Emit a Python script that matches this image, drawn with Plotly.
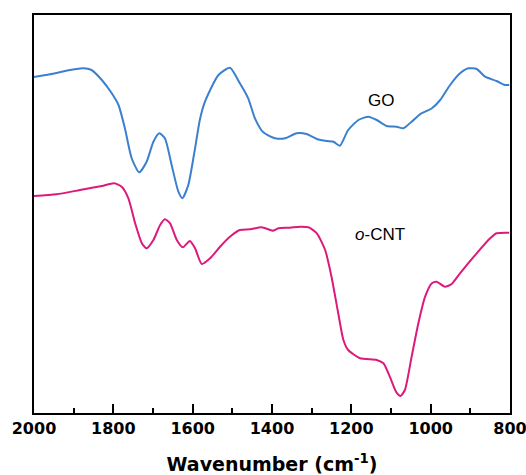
import plotly.graph_objects as go

# Wavenumbers (cm-1) and relative transmittance (arbitrary units)
go_wn = [2000, 1960, 1909, 1876, 1855, 1829, 1804, 1787, 1771, 1754, 1735, 1716, 1699, 1684,
         1670, 1653, 1636, 1626, 1611, 1594, 1582, 1569, 1535, 1506, 1481, 1460, 1443, 1422,
         1392, 1367, 1338, 1313, 1287, 1262, 1245, 1229, 1208, 1182, 1157, 1136, 1111, 1086,
         1069, 1048, 1027, 997, 976, 951, 926, 905, 884, 863, 834, 813, 802]
go_t = [336, 338.7, 343, 344.7, 343, 333, 319.7, 308, 285, 255, 240.7, 251.3, 271.3, 279.7,
        274.7, 248, 221.3, 214.7, 228, 264.7, 293, 311.3, 338, 345.3, 329.7, 314.7, 294.7, 280.7,
        274.7, 274.7, 279.7, 279, 274, 272, 271.3, 267.3, 283, 293, 296.3, 293, 287, 286.3,
        284.7, 291.3, 298.7, 304.7, 313, 328, 339.7, 344.7, 344, 336.3, 332, 328, 328]

cnt_wn = [2000, 1943, 1884, 1829, 1798, 1779, 1762, 1745, 1728, 1716, 1699, 1682, 1670, 1657,
          1640, 1625, 1607, 1594, 1577, 1556, 1531, 1506, 1481, 1455, 1426, 1397, 1384, 1355,
          1329, 1308, 1287, 1266, 1250, 1233, 1220, 1208, 1178, 1136, 1119, 1103, 1086, 1076,
          1065, 1048, 1031, 1014, 997, 985, 964, 947, 926, 884, 850, 834, 802]
cnt_t = [217, 218.7, 223, 227, 229.7, 226.3, 214.7, 189.7, 169.7, 164.7, 173, 188, 193.7, 189.7,
         173, 165.7, 172, 164.7, 149, 154.7, 166.3, 176.3, 183, 183.7, 185.7, 182.3, 184.7, 185.3,
         186.3, 185.7, 179.7, 163, 136.3, 99.7, 73, 63, 54.7, 53, 49.7, 36.3, 20.3, 17,
         23, 56.3, 89.7, 116.3, 129.7, 131.3, 126.3, 129, 139.7, 159.7, 174.7, 179.7, 180.3]

x_ticks = [2000, 1800, 1600, 1400, 1200, 1000, 800]

fig = go.Figure()
fig.add_trace(go.Scatter(x=go_wn, y=go_t, mode="lines", name="GO",
                         line=dict(color="#3B80CF", width=2, shape="spline", smoothing=0.6)))
fig.add_trace(go.Scatter(x=cnt_wn, y=cnt_t, mode="lines", name="o-CNT",
                         line=dict(color="#DC1A7C", width=2, shape="spline", smoothing=0.6)))

fig.add_annotation(x=1125, y=313, text="GO", showarrow=False,
                   font=dict(family="Liberation Sans, Arial", size=17, color="black"))
fig.add_annotation(x=1128, y=179, text="<i>o</i>-CNT", showarrow=False,
                   font=dict(family="Liberation Sans, Arial", size=17, color="black"))

fig.update_layout(
    width=526, height=475,
    margin=dict(l=34, r=16, t=15, b=62),
    plot_bgcolor="white", paper_bgcolor="white",
    showlegend=False,
)
fig.update_xaxes(
    range=[2000, 800], tickvals=x_ticks, ticktext=[str(v) for v in x_ticks],
    ticks="inside", ticklen=9, tickwidth=2, tickcolor="black",
    minor=dict(dtick=100, ticks="inside", ticklen=5, tickwidth=1.5, tickcolor="black"),
    showline=True, linecolor="black", linewidth=2, mirror=True,
    showgrid=False, zeroline=False, ticklabeloverflow="allow", automargin=False,
    tickfont=dict(family="DejaVu Sans", size=16, color="black", weight="bold"),
    title=dict(text="Wavenumber (cm<sup>-1</sup>)", standoff=20,
               font=dict(family="DejaVu Sans", size=19, color="black", weight="bold")),
)
fig.update_yaxes(
    range=[0, 398], showticklabels=False, ticks="", automargin=False,
    showline=True, linecolor="black", linewidth=2, mirror=True,
    showgrid=False, zeroline=False,
)

fig.write_html("out.html")
